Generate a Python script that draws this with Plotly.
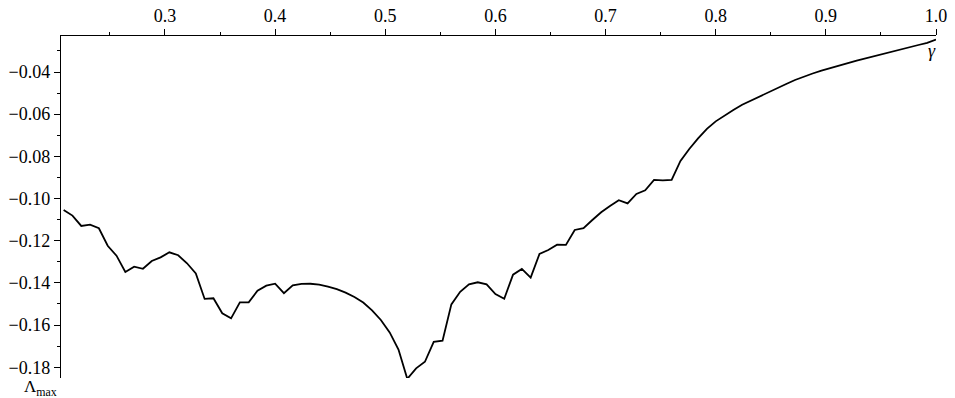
import numpy as np
import plotly.graph_objects as go

# gamma sampled on a regular grid (0.208 .. 1.0, step 0.008)
gamma = [round(0.208 + 0.008 * i, 3) for i in range(100)]

lambda_max = [
    -0.1054, -0.1081, -0.1130, -0.1124, -0.1141, -0.1224, -0.1271, -0.1348, -0.1323, -0.1333,
    -0.1296, -0.1279, -0.1255, -0.1269, -0.1307, -0.1355, -0.1476, -0.1473, -0.1544, -0.1568,
    -0.1492, -0.1492, -0.1437, -0.1413, -0.1404, -0.1449, -0.1412, -0.1405, -0.1404, -0.1408,
    -0.1418, -0.1430, -0.1446, -0.1467, -0.1493, -0.1530, -0.1576, -0.1635, -0.1716, -0.1855,
    -0.1805, -0.1774, -0.1680, -0.1674, -0.1502, -0.1442, -0.1407, -0.1397, -0.1407, -0.1453,
    -0.1475, -0.1361, -0.1334, -0.1375, -0.1263, -0.1244, -0.1219, -0.1220, -0.1149, -0.1140,
    -0.1102, -0.1065, -0.1035, -0.1008, -0.1023, -0.0978, -0.0961, -0.0912, -0.0914, -0.0912,
    -0.0822, -0.0765, -0.0715, -0.0670, -0.0634, -0.0605, -0.0580, -0.0555, -0.0535, -0.0515,
    -0.0494, -0.0475, -0.0457, -0.0438, -0.0421, -0.0407, -0.0394, -0.0381, -0.0369, -0.0358,
    -0.0346, -0.0335, -0.0325, -0.0314, -0.0303, -0.0293, -0.0282, -0.0272, -0.0262, -0.0246,
]

x_tick_vals = [0.3, 0.4, 0.5, 0.6, 0.7, 0.8, 0.9, 1.0]
y_tick_vals = [-0.04, -0.06, -0.08, -0.10, -0.12, -0.14, -0.16, -0.18]

FONT = "'Times New Roman', 'Liberation Serif', serif"

fig = go.Figure()
fig.add_trace(go.Scatter(
    x=gamma, y=lambda_max, mode="lines",
    line=dict(color="black", width=1.8),
    showlegend=False, hoverinfo="skip",
))

fig.update_layout(
    width=955, height=398,
    margin=dict(l=61, r=19, t=36, b=20),
    paper_bgcolor="white", plot_bgcolor="white",
    font=dict(family=FONT, size=18, color="black"),
    xaxis=dict(
        side="top", range=[0.2056, 1.0], automargin=False,
        showline=True, linecolor="black", linewidth=1.3,
        showgrid=False, zeroline=False,
        ticks="outside", ticklen=6, tickwidth=1, tickcolor="black",
        tickvals=x_tick_vals, ticktext=[f"{v:.1f}" for v in x_tick_vals],
        minor=dict(ticks="outside", ticklen=3, tickwidth=1, tickcolor="black",
                   dtick=0.05, tick0=0, showgrid=False),
        tickfont=dict(family=FONT, size=18, color="black"),
    ),
    yaxis=dict(
        range=[-0.1851, -0.02293], automargin=False,
        showline=True, linecolor="black", linewidth=1.3,
        showgrid=False, zeroline=False,
        ticks="outside", ticklen=6, tickwidth=1, tickcolor="black",
        tickvals=y_tick_vals, ticktext=["\u2212" + f"{abs(v):.2f}" for v in y_tick_vals],
        minor=dict(ticks="outside", ticklen=3, tickwidth=1, tickcolor="black",
                   dtick=0.01, tick0=0, showgrid=False),
        tickfont=dict(family=FONT, size=18, color="black"),
    ),
    annotations=[
        dict(text="<i>\u03b3</i>", xref="paper", yref="paper", x=0.995, y=0.955,
             xanchor="center", yanchor="middle", showarrow=False,
             font=dict(family=FONT, size=18, color="black")),
        dict(text="\u039b<sub>max</sub>", xref="paper", yref="paper", x=-0.003, y=-0.064,
             xanchor="right", yanchor="bottom", showarrow=False, borderpad=0,
             font=dict(family=FONT, size=17, color="black")),
    ],
)

fig.write_html("out.html", config={"displayModeBar": False},
               post_script="document.body.style.margin='0px';")
